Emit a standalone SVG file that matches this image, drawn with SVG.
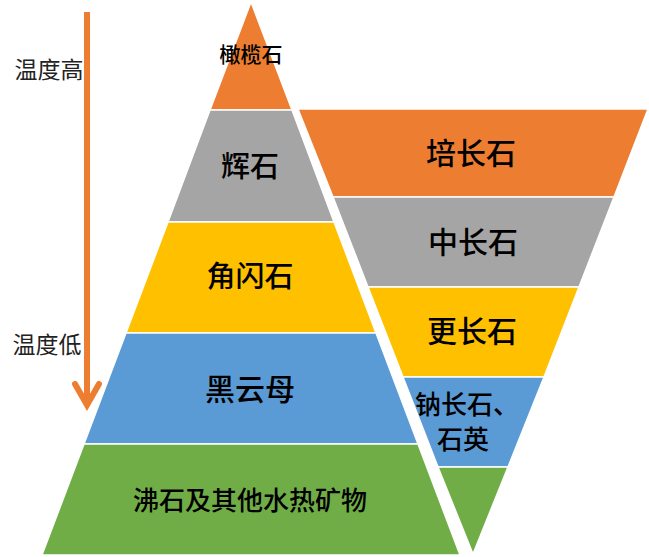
<svg xmlns="http://www.w3.org/2000/svg" width="649" height="557" viewBox="0 0 649 557">
<style>
.l{stroke:#fff;stroke-width:1.5}
.o{fill:#ED7D31}.g{fill:#A5A5A5}.y{fill:#FFC000}.b{fill:#5B9BD5}.gr{fill:#70AD47}
text{font-family:"Noto Sans CJK SC","Noto Sans",sans-serif;fill:#000;text-anchor:middle;dominant-baseline:central;font-weight:500}
.side{font-size:23px;fill:#222;font-weight:400}
</style>
<rect width="649" height="557" fill="#fff"/>
<g id="connectors">
<line x1="87" y1="12" x2="87" y2="403" stroke="#ED7D31" stroke-width="6"/>
<polyline points="75,384 87,405 99,384" fill="none" stroke="#ED7D31" stroke-width="6" stroke-linecap="round" stroke-linejoin="miter"/>
</g>
<g id="label-high"><text class="side" x="49" y="68">温度高</text></g>
<g id="label-low"><text class="side" x="47" y="343">温度低</text></g>
<g id="olivine"><polygon class="o l" points="251,2 292,110 210,110"/><text x="251" y="53" font-size="21">橄榄石</text></g>
<g id="pyroxene"><polygon class="g l" points="210,110 292,110 334,222 168,222"/><text x="250" y="164" font-size="29">辉石</text></g>
<g id="amphibole"><polygon class="y l" points="168,222 334,222 376,333 126,333"/><text x="250" y="274" font-size="29">角闪石</text></g>
<g id="biotite"><polygon class="b l" points="126,333 376,333 418,444 84,444"/><text x="250" y="387" font-size="30">黑云母</text></g>
<g id="zeolite"><polygon class="gr l" points="84,444 418,444 460,555 42,555"/><text x="250" y="498" font-size="26">沸石及其他水热矿物</text></g>
<g id="anorthite"><polygon class="o l" points="298,109 648,109 614,197 333,197"/><text x="471" y="151" font-size="30">培长石</text></g>
<g id="andesine"><polygon class="g l" points="333,197 614,197 579,287 368,287"/><text x="473" y="240" font-size="30">中长石</text></g>
<g id="oligoclase"><polygon class="y l" points="368,287 579,287 544,377 403,377"/><text x="472" y="329" font-size="30">更长石</text></g>
<g id="albite"><polygon class="b l" points="403,377 544,377 508,467 438,467"/><text x="467" y="402" font-size="26">钠长石、</text><text x="463" y="437" font-size="26">石英</text></g>
<g id="bottom"><polygon class="gr l" points="438,467 508,467 473,554"/></g>
</svg>
